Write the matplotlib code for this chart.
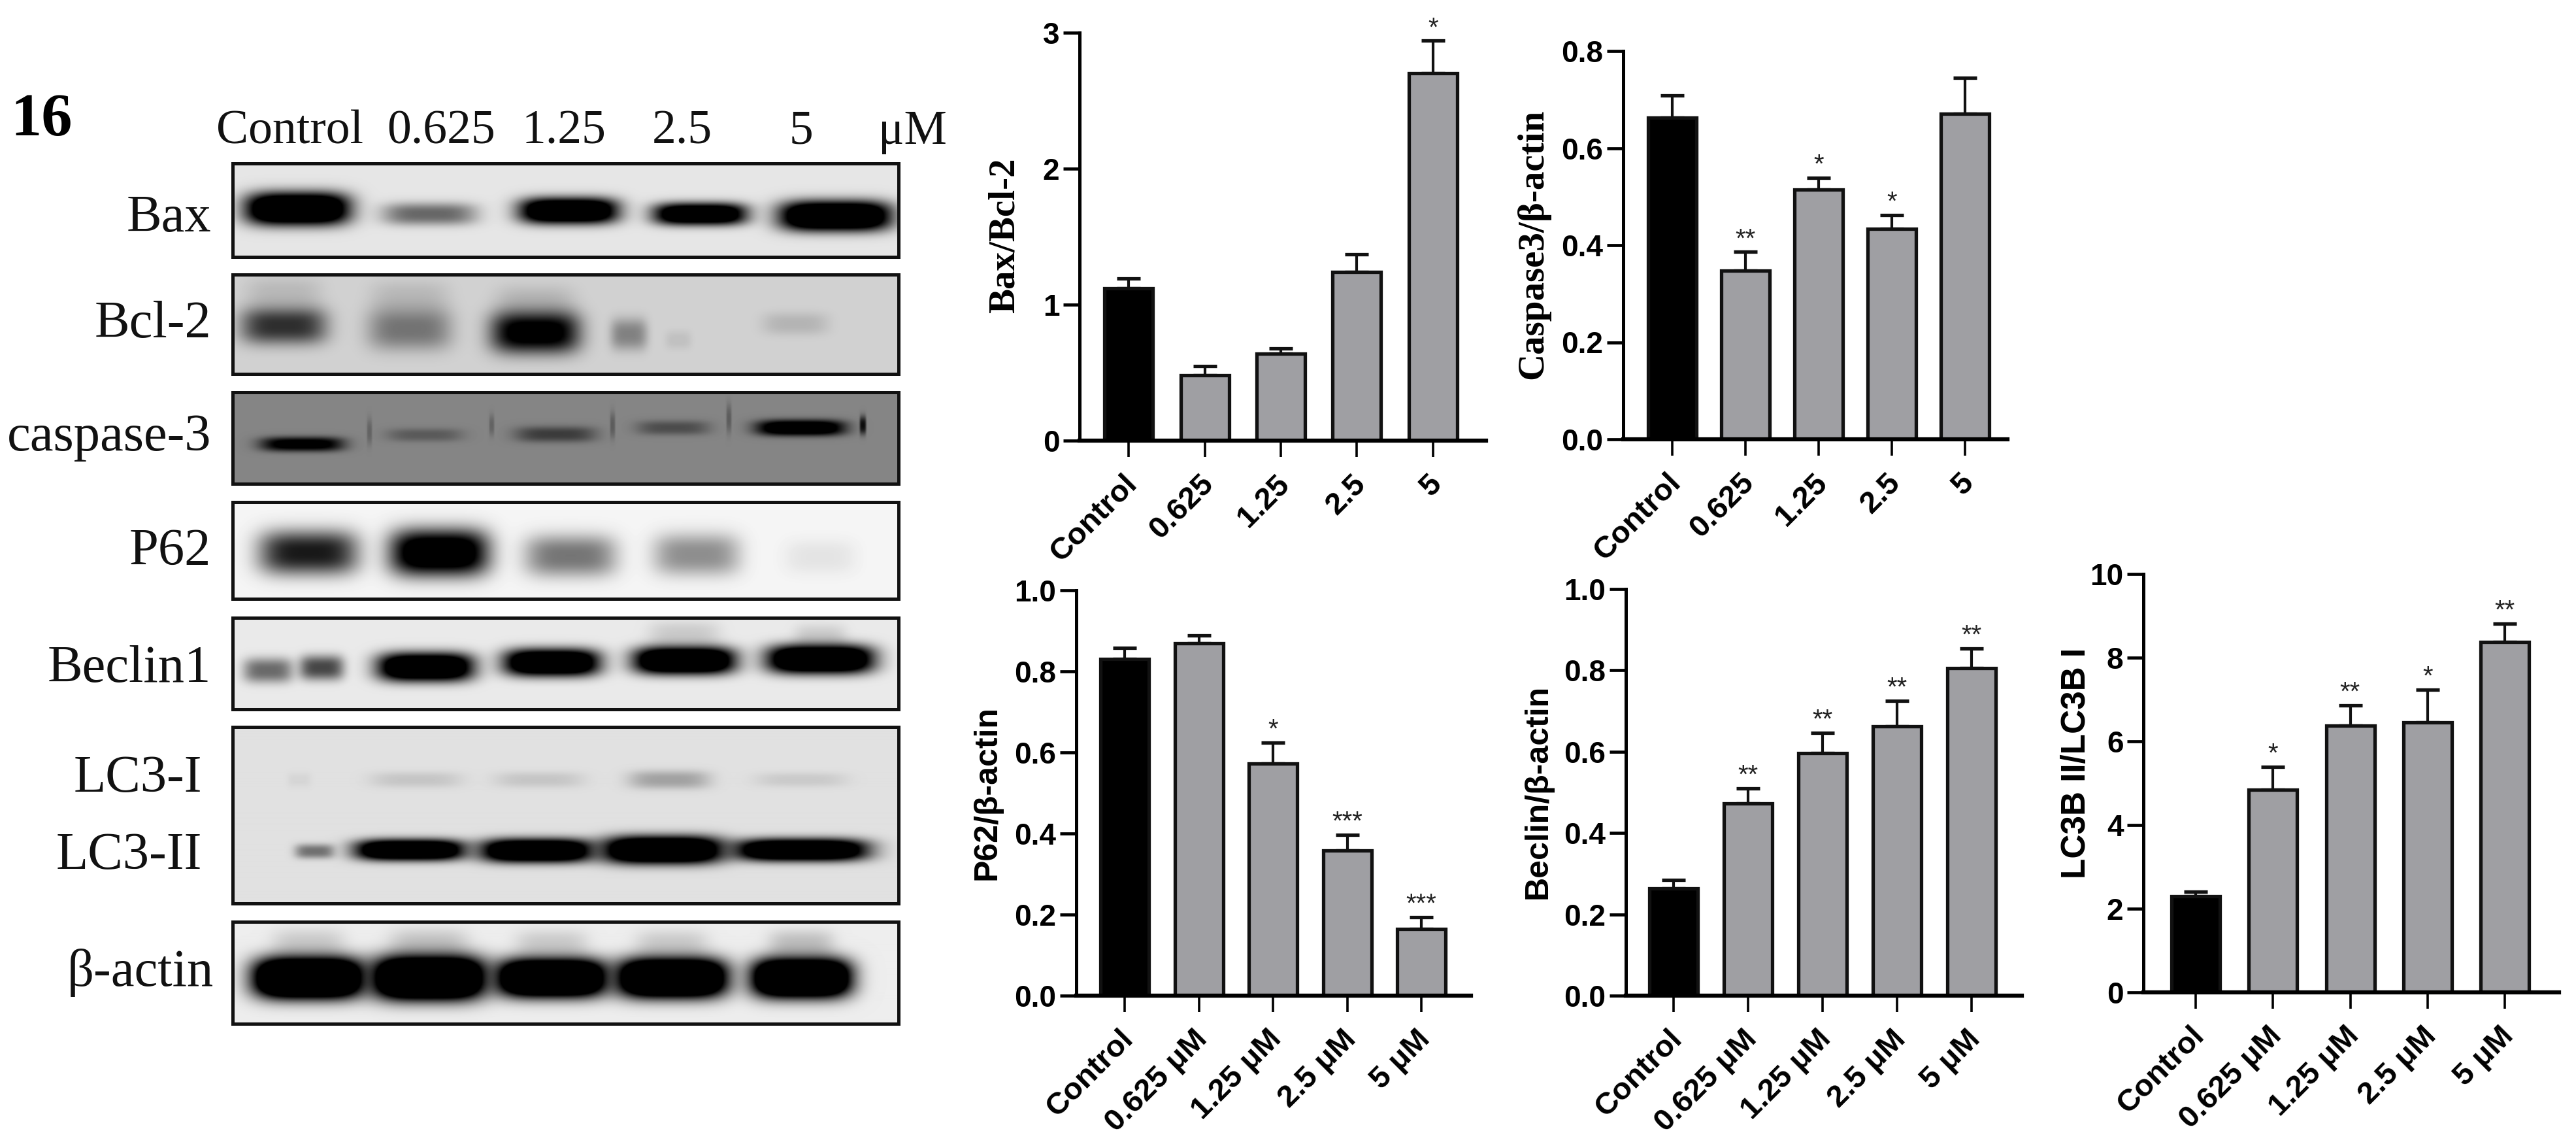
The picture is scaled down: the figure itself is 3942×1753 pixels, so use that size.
import numpy as np
import matplotlib
matplotlib.use('Agg')
import matplotlib.pyplot as plt
from matplotlib.transforms import ScaledTranslation

W, H = 3942, 1753
SANS = 'Liberation Sans'
SERIF = 'Liberation Serif'
GREY = '#9f9fa3'

# bar chart data
groups_short = ['Control', '0.625', '1.25', '2.5', '5']
groups_um = ['Control', '0.625 μM', '1.25 μM', '2.5 μM', '5 μM']

bax_values = [1.12, 0.48, 0.64, 1.24, 2.70]
bax_sem = [0.07, 0.07, 0.04, 0.13, 0.24]
bax_stars = ['', '', '', '', '*']

casp_values = [0.663, 0.347, 0.515, 0.434, 0.671]
casp_sem = [0.045, 0.039, 0.024, 0.028, 0.074]
casp_stars = ['', '**', '*', '*', '']

p62_values = [0.830, 0.870, 0.572, 0.358, 0.165]
p62_sem = [0.028, 0.019, 0.053, 0.039, 0.029]
p62_stars = ['', '', '*', '***', '***']

beclin_values = [0.264, 0.473, 0.597, 0.663, 0.805]
beclin_sem = [0.020, 0.037, 0.050, 0.062, 0.049]
beclin_stars = ['', '**', '**', '**', '**']

lc3_values = [2.29, 4.85, 6.37, 6.46, 8.37]
lc3_sem = [0.11, 0.54, 0.49, 0.78, 0.45]
lc3_stars = ['', '*', '**', '*', '**']

# blot band darkness per lane (0 = nothing, 1 = black)
bax_dark = [1.7, 0.55, 1.6, 1.5, 1.7]
bcl_dark = [0.78, 0.45, 1.15, 0.38, 0.14]
casp3_dark = [1.2, 0.32, 0.55, 0.42, 1.5]
p62_dark = [0.9, 1.3, 0.52, 0.42, 0.07]
beclin_dark = [0.55, 0.7, 1.6, 1.6, 1.7, 1.7]
lc3i_dark = [0.05, 0.12, 0.12, 0.28, 0.1]
lc3ii_dark = [0.5, 1.7, 1.7, 1.8, 1.7]
actin_dark = [2.2, 2.2, 2.1, 2.1, 2.1]

fig = plt.figure(figsize=(W / 100, H / 100), dpi=100)


def px_text(x, y, s, **kw):
    return fig.text(x / W, 1 - y / H, s, **kw)


def px_axes(left, top, right, bottom):
    return fig.add_axes([left / W, 1 - bottom / H, (right - left) / W, (bottom - top) / H])


def band(img, top, xc, yc, hw, hh, dark):
    # soft edged blot band, coordinates are figure pixels
    yy, xx = np.mgrid[0:img.shape[0], 0:img.shape[1]]
    xx = xx + 356
    yy = yy + top
    shape = np.exp(-np.abs((xx - xc) / hw) ** 4) * np.exp(-np.abs((yy - yc) / hh) ** 2.6)
    return img * (1 - np.clip(dark * shape, 0, 1))


def draw_blot(top, bottom, bg, bands):
    ax = px_axes(356, top, 1375, bottom)
    img = np.full((bottom - top, 1375 - 356), bg, dtype=float)
    for b in bands:
        img = band(img, top, *b)
    ax.imshow(img, cmap='gray', vmin=0, vmax=1, aspect='auto', interpolation='bilinear')
    ax.set_xticks([])
    ax.set_yticks([])
    for s in ax.spines.values():
        s.set_linewidth(3.6)
        s.set_color('#111111')


def lanes(xs, ys, hws, hhs, darks):
    return list(zip(xs, ys, hws, hhs, darks))


draw_blot(250, 393, 0.90, lanes([455, 657, 870, 1071, 1278], [319, 327, 322, 327, 330],
                                [80, 72, 76, 72, 86], [25, 17, 20, 17, 23], bax_dark))
draw_blot(420, 572, 0.82, lanes([434, 627, 819, 962, 1217], [498, 503, 508, 511, 495],
                                [66, 64, 68, 28, 50], [28, 32, 32, 24, 17], bcl_dark)
          + lanes([434, 627, 819, 1038], [450, 455, 462, 520],
                  [58, 60, 60, 20], [25, 25, 25, 14], [0.12, 0.12, 0.14, 0.08]))
draw_blot(600, 740, 0.52, lanes([462, 650, 850, 1030, 1225], [679, 665, 664, 654, 654],
                                [64, 58, 62, 56, 68], [11, 10, 12, 11, 12], casp3_dark)
          + lanes([1320, 1115, 937, 752, 565], [650, 640, 650, 650, 660],
                  [5, 4, 4, 4, 4], [14, 22, 20, 16, 20], [0.9, 0.3, 0.3, 0.25, 0.25]))
draw_blot(768, 916, 0.96, lanes([472, 672, 873, 1066, 1255], [845, 845, 850, 848, 852],
                                [76, 76, 70, 66, 54], [34, 36, 32, 32, 26], p62_dark))
draw_blot(945, 1085, 0.92, lanes([410, 492, 651, 844, 1047, 1255], [1025, 1021, 1020, 1013, 1010, 1008],
                                 [38, 34, 74, 74, 78, 82], [19, 19, 22, 21, 21, 22], beclin_dark)
          + lanes([1047, 1255], [972, 975], [55, 40], [22, 20], [0.14, 0.14]))
draw_blot(1112, 1382, 0.88, lanes([458, 637, 825, 1024, 1226], [1193, 1193, 1193, 1193, 1193],
                                  [18, 70, 68, 62, 70], [11, 12, 12, 14, 11], lc3i_dark)
          + lanes([481, 627, 821, 1014, 1226], [1302, 1300, 1301, 1300, 1300],
                  [30, 84, 86, 92, 102], [11, 16, 18, 21, 17], lc3ii_dark))
draw_blot(1410, 1566, 0.93, lanes([472, 656, 844, 1028, 1226], [1496, 1496, 1496, 1496, 1496],
                                  [84, 86, 84, 84, 76], [31, 33, 29, 30, 30], actin_dark)
          + lanes([472, 656, 844, 1028, 1226], [1445, 1445, 1445, 1445, 1445],
                  [55, 60, 55, 55, 50], [24, 24, 22, 22, 22], [0.15, 0.18, 0.15, 0.15, 0.2]))

# blot labels
serif = dict(family=SERIF, color='#111111', va='baseline')
px_text(16, 207, '16', family=SERIF, fontsize=68, fontweight='bold', va='baseline')
for x, s in zip([444, 675, 863, 1044, 1226, 1396],
                ['Control', '0.625', '1.25', '2.5', '5', 'μM']):
    px_text(x, 220, s, ha='center', fontsize=53, **serif)
for x, y, s in [(323, 354, 'Bax'), (323, 516, 'Bcl-2'), (323, 689, 'caspase-3'),
                (323, 864, 'P62'), (323, 1043, 'Beclin1'), (309, 1211, 'LC3-I'),
                (309, 1329, 'LC3-II'), (327, 1508, 'β-actin')]:
    px_text(x, y, s, ha='right', fontsize=58, **serif)


def draw_bars(box, centers, values, sem, stars, ticks, ticklabels, groups):
    axis_x, y_top, axis_end, y0 = box
    ax = px_axes(axis_x, y_top, axis_end, y0)
    step = (centers[-1] - centers[0]) / 4
    ax.set_xlim((axis_x - centers[0]) / step, (axis_end - centers[0]) / step)
    ax.set_ylim(0, ticks[-1])
    x = np.arange(5)
    ax.bar(x, values, width=74 / step, color=['black'] + [GREY] * 4,
           edgecolor='#111111', linewidth=3.8, zorder=2)
    ax.errorbar(x, values, yerr=[np.zeros(5), sem], fmt='none', ecolor='#111111',
                elinewidth=3, capsize=13, capthick=3.8, zorder=1, clip_on=False)
    for i in range(5):
        if stars[i]:
            ax.annotate(stars[i], (i, values[i] + sem[i]), xytext=(0, 0),
                        textcoords='offset points', ha='center', va='bottom',
                        family=SANS, fontsize=29, color='#222222')
    for side in ('top', 'right'):
        ax.spines[side].set_visible(False)
    ax.spines['left'].set_linewidth(3.6)
    ax.spines['bottom'].set_linewidth(4.5)
    ax.set_yticks(ticks)
    ax.set_yticklabels(ticklabels, family=SANS, fontweight='bold', fontsize=33)
    ax.tick_params(axis='y', length=18, width=3.4, pad=4)
    ax.set_xticks(x)
    ax.set_xticklabels(groups, family=SANS, fontweight='bold', fontsize=34,
                       rotation=45, ha='right', rotation_mode='anchor')
    ax.tick_params(axis='x', length=18, width=2.6, pad=14)
    # nudge the slanted labels left so they end just over the tick
    nudge = ScaledTranslation(-9 / 100, 0, fig.dpi_scale_trans)
    for lab in ax.get_xticklabels():
        lab.set_transform(lab.get_transform() + nudge)
    ax.patch.set_alpha(0)
    return ax


draw_bars((1652, 50, 2274, 674), [1727, 1844, 1960, 2076, 2193], bax_values, bax_sem, bax_stars,
          [0, 1, 2, 3], ['0', '1', '2', '3'], groups_short)
draw_bars((2484, 78, 3072, 672), [2559, 2671, 2783, 2895, 3007], casp_values, casp_sem, casp_stars,
          [0, 0.2, 0.4, 0.6, 0.8], ['0.0', '0.2', '0.4', '0.6', '0.8'], groups_short)
ticks_frac = [0, 0.2, 0.4, 0.6, 0.8, 1.0]
labels_frac = ['0.0', '0.2', '0.4', '0.6', '0.8', '1.0']
draw_bars((1647, 903, 2251, 1523), [1721, 1835, 1949, 2063, 2175], p62_values, p62_sem, p62_stars,
          ticks_frac, labels_frac, groups_um)
draw_bars((2488, 901, 3094, 1523), [2561, 2675, 2789, 2903, 3017], beclin_values, beclin_sem, beclin_stars,
          ticks_frac, labels_frac, groups_um)
draw_bars((3280, 878, 3916, 1518), [3360, 3479, 3596, 3715, 3833], lc3_values, lc3_sem, lc3_stars,
          [0, 2, 4, 6, 8, 10], ['0', '2', '4', '6', '8', '10'], groups_um)

# y axis titles
px_text(1538, 360, 'Bax/Bcl-2', family=SERIF, fontweight='bold', fontsize=41,
        rotation=90, ha='center', va='center')
px_text(2346, 373, 'Caspase3/β-actin', family=SERIF, fontweight='bold', fontsize=41,
        rotation=90, ha='center', va='center')
px_text(1511, 1213, 'P62/β-actin', family=SANS, fontweight='bold', fontsize=36,
        rotation=90, ha='center', va='center')
px_text(2354, 1211, 'Beclin/β-actin', family=SANS, fontweight='bold', fontsize=36,
        rotation=90, ha='center', va='center')
px_text(3177, 1167, 'LC3B II/LC3B I', family=SANS, fontweight='bold', fontsize=37,
        rotation=90, ha='center', va='center')

fig.savefig('out.png', dpi=100)
